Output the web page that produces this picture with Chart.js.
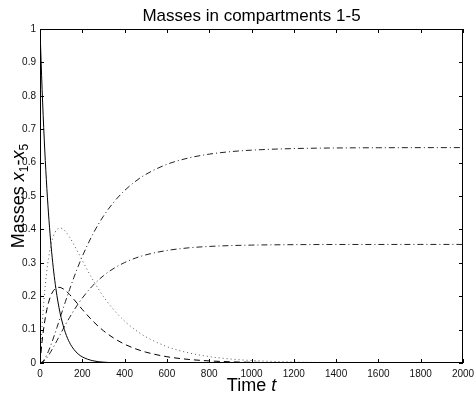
<!DOCTYPE html>
<html>
<head>
<meta charset="utf-8">
<style>
html,body{margin:0;padding:0;background:#fff;}
#wrap{width:474px;height:396px;}
</style>
<script src="https://cdn.jsdelivr.net/npm/chart.js@4/dist/chart.umd.min.js"></script>
</head>
<body>
<div id="wrap"><canvas id="c" width="474" height="396"></canvas></div>
<script>
const chartTitle = 'Masses in compartments 1-5';
const xAxisLabel = ['Time ', 't'];
const yAxisLabel = ['Masses ', 'x', '1', '-', 'x', '5'];
const xTicks = [0,200,400,600,800,1000,1200,1400,1600,1800,2000];
const yTicks = [0,0.1,0.2,0.3,0.4,0.5,0.6,0.7,0.8,0.9,1];
const times = [0,10,20,30,40,50,60,70,80,90,100,120,140,160,180,200,250,300,350,400,450,500,600,700,800,900,1000,1200,1400,1600,1800,2000];
const x1 = [1,.8187,.6703,.5488,.4493,.3679,.3012,.2466,.2019,.1653,.1353,.0907,.0608,.0408,.0273,.0183,.0067,.0025,.0009,.0003,.0001,0,0,0,0,0,0,0,0,0,0,0];
const x2 = [0,.0652,.1150,.1525,.1801,.1998,.2130,.2213,.2255,.2266,.2252,.2174,.2051,.1907,.1756,.1604,.1255,.0966,.0740,.0563,.0429,.0326,.0188,.0109,.0063,.0036,.0021,.0007,.0002,.0001,0,0];
const x3 = [0,.1116,.1978,.2634,.3125,.3483,.3734,.3898,.3994,.4036,.4035,.3940,.3767,.3548,.3311,.3068,.2489,.1991,.1583,.1255,.0993,.0786,.0491,.0307,.0192,.0120,.0075,.0029,.0011,.0004,.0002,.0001];
const x4 = [0,.0028,.0103,.0215,.0354,.0513,.0687,.0871,.1061,.1254,.1449,.1833,.2204,.2556,.2886,.3193,.3860,.4397,.4825,.5164,.5433,.5646,.5948,.6135,.6253,.6327,.6373,.6420,.6438,.6445,.6448,.6449];
const x5 = [0,.0018,.0066,.0137,.0226,.0326,.0435,.0550,.0668,.0788,.0907,.1141,.1365,.1574,.1767,.1945,.2321,.2613,.2837,.3007,.3138,.3237,.3369,.3446,.3490,.3515,.3530,.3543,.3548,.3549,.3550,.3550];

const FONT = '"Liberation Sans", Arial, Helvetica, sans-serif';
const pts = arr => times.map((t, i) => ({x: t, y: arr[i]}));

function mkSet(label, arr, color, dash) {
  return {label, data: pts(arr), borderColor: color, borderWidth: 1, borderDash: dash,
    pointRadius: 0, fill: false, cubicInterpolationMode: 'monotone'};
}

const framePlugin = {
  id: 'frame',
  afterDatasetsDraw(chart) {
    const ctx = chart.ctx, a = chart.chartArea;
    const xs = chart.scales.x, ys = chart.scales.y;
    ctx.save();
    ctx.strokeStyle = '#000';
    ctx.lineWidth = 1;
    ctx.strokeRect(Math.round(a.left) + 0.5, Math.round(a.top) + 0.5, Math.round(a.right - a.left) - 1, Math.round(a.bottom - a.top) - 1);
    ctx.beginPath();
    const L = 4;
    xTicks.forEach(v => {
      const px = Math.round(xs.getPixelForValue(v)) + 0.5;
      ctx.moveTo(px, a.bottom); ctx.lineTo(px, a.bottom - L);
      ctx.moveTo(px, a.top); ctx.lineTo(px, a.top + L);
    });
    yTicks.forEach(v => {
      const py = Math.round(ys.getPixelForValue(v)) + 0.5;
      ctx.moveTo(a.left, py); ctx.lineTo(a.left + L, py);
      ctx.moveTo(a.right, py); ctx.lineTo(a.right - L, py);
    });
    ctx.stroke();
    ctx.restore();
  },
  afterDraw(chart) {
    const ctx = chart.ctx, a = chart.chartArea;
    const cx = (a.left + a.right) / 2, cy = (a.top + a.bottom) / 2;
    ctx.save();
    ctx.fillStyle = '#000';
    ctx.textBaseline = 'alphabetic';
    // title
    ctx.font = '17px ' + FONT;
    ctx.textAlign = 'center';
    ctx.fillText(chartTitle, cx, 20.5);
    // x label
    ctx.textAlign = 'left';
    const nf = '18px ' + FONT, itf = 'italic 18px ' + FONT, sf = '12px ' + FONT;
    ctx.font = nf; const w1 = ctx.measureText(xAxisLabel[0]).width;
    ctx.font = itf; const w2 = ctx.measureText(xAxisLabel[1]).width;
    let sx = cx - (w1 + w2) / 2;
    ctx.font = nf; ctx.fillText(xAxisLabel[0], sx, 391);
    ctx.font = itf; ctx.fillText(xAxisLabel[1], sx + w1, 391);
    // y label (rotated)
    const segs = [
      {t: yAxisLabel[0], f: nf, dy: 0},
      {t: yAxisLabel[1], f: itf, dy: 0},
      {t: yAxisLabel[2], f: sf, dy: 4},
      {t: yAxisLabel[3], f: nf, dy: 0},
      {t: yAxisLabel[4], f: itf, dy: 0},
      {t: yAxisLabel[5], f: sf, dy: 4}
    ];
    let total = 0;
    segs.forEach(s => { ctx.font = s.f; s.w = ctx.measureText(s.t).width; total += s.w; });
    ctx.translate(23.5, cy);
    ctx.rotate(-Math.PI / 2);
    let p = -total / 2;
    segs.forEach(s => { ctx.font = s.f; ctx.fillText(s.t, p, s.dy); p += s.w; });
    ctx.restore();
  }
};

new Chart(document.getElementById('c'), {
  type: 'line',
  data: {
    datasets: [
      mkSet('x1', x1, '#000', []),
      mkSet('x2', x2, '#000', [6, 4]),
      mkSet('x3', x3, '#555', [1, 3]),
      mkSet('x4', x4, '#222', [6, 3, 1, 3]),
      mkSet('x5', x5, '#222', [6, 3, 1, 3])
    ]
  },
  options: {
    responsive: false,
    animation: false,
    events: [],
    layout: {padding: {left: 0, right: 11, top: 29, bottom: 0}},
    plugins: {legend: {display: false}, tooltip: {enabled: false}, title: {display: false}},
    scales: {
      x: {
        type: 'linear', min: 0, max: 2000,
        afterBuildTicks: s => { s.ticks = xTicks.map(v => ({value: v})); },
        afterFit: s => { s.height = 33; s.paddingLeft = 0; s.paddingRight = 0; },
        grid: {display: false, drawTicks: false}, border: {display: false},
        ticks: {padding: 5, maxRotation: 0, autoSkip: false, color: '#111',
          font: {family: FONT, size: 10}, callback: v => String(v)}
      },
      y: {
        type: 'linear', min: 0, max: 1,
        afterBuildTicks: s => { s.ticks = yTicks.map(v => ({value: v})); },
        afterFit: s => { s.width = 40; s.paddingTop = 0; s.paddingBottom = 0; },
        grid: {display: false, drawTicks: false}, border: {display: false},
        ticks: {padding: 4, autoSkip: false, color: '#111',
          font: {family: FONT, size: 10}, callback: v => String(Math.round(v * 10) / 10)}
      }
    }
  },
  plugins: [framePlugin]
});
</script>
</body>
</html>
